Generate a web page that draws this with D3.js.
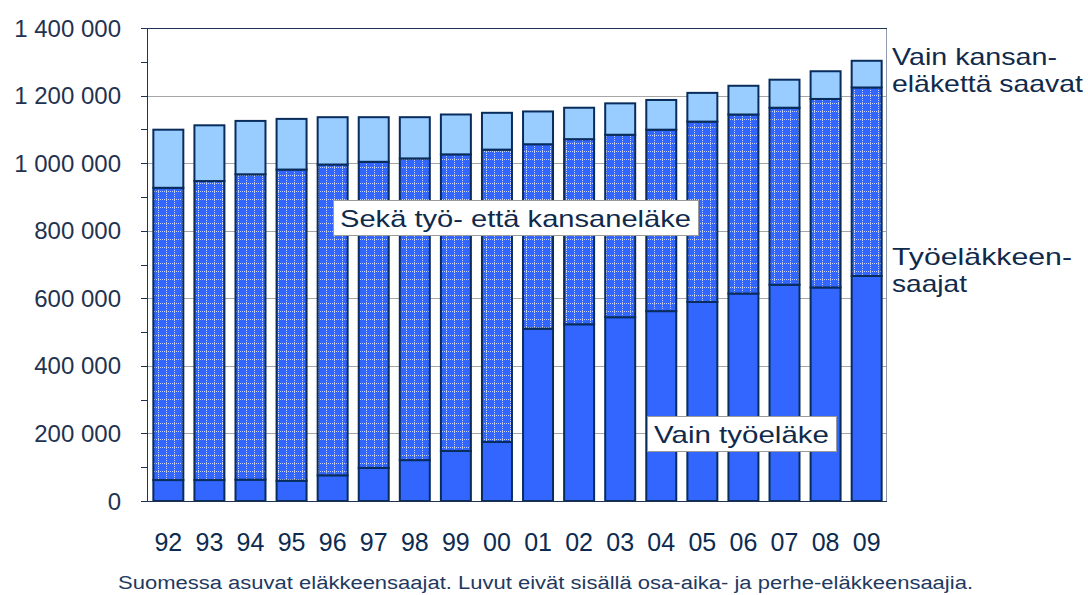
<!DOCTYPE html>
<html>
<head>
<meta charset="utf-8">
<script src="https://cdn.jsdelivr.net/npm/d3@7"></script>
<style>
  body { margin: 0; background: #fff; }
  text { font-family: "Liberation Sans", Arial, sans-serif; }
</style>
</head>
<body>
<div id="chart"></div>
<script>
'use strict';

const width = 1088;
const height = 595;

// vuodet
const years = ['92', '93', '94', '95', '96', '97', '98', '99', '00',
    '01', '02', '03', '04', '05', '06', '07', '08', '09'];

// Vain työeläke
const vainTyo = [62000, 62000, 63000, 60000, 76000, 98000, 121000, 148000, 175000,
    510000, 523000, 544000, 562000, 589000, 614000, 640000, 632000, 666000];

// Sekä työ- että kansaneläke
const seka = [865000, 885000, 904000, 921000, 920000, 906000, 893000, 878000, 865000,
    546000, 548000, 540000, 537000, 534000, 530000, 524000, 558000, 558000];

// Vain kansaneläkettä saavat
const vainKansan = [172000, 165000, 158000, 150000, 140000, 132000, 122000, 118000, 109000,
    97000, 93000, 93000, 88000, 85000, 85000, 83000, 82000, 79000];

const yTicks = [0, 200000, 400000, 600000, 800000, 1000000, 1200000, 1400000];
const yMinorTicks = d3.range(100000, 1400000, 200000);

const keys = ['vainTyo', 'seka', 'vainKansan'];
const fills = { vainTyo: '#3366ff', seka: 'url(#grid)', vainKansan: '#99ccff' };

const rows = years.map((y, i) => ({
    year: y, vainTyo: vainTyo[i], seka: seka[i], vainKansan: vainKansan[i]
}));
const stacked = d3.stack().keys(keys)(rows);

const plot = { left: 148, right: 887, top: 28, bottom: 501 };

const x = d3.scaleBand()
    .domain(years)
    .range([plot.left, plot.right])
    .paddingInner(0.27)
    .paddingOuter(0.13);

const y = d3.scaleLinear()
    .domain([0, 1400000])
    .range([plot.bottom, plot.top]);

const fmt = v => d3.format(',')(v).replace(/,/g, ' ');

let svg = d3.select('#chart').append('svg')
    .attr('width', width)
    .attr('height', height);

// ruudukkokuvio
const defs = svg.append('defs');
const pat = defs.append('pattern')
    .attr('id', 'grid')
    .attr('patternUnits', 'userSpaceOnUse')
    .attr('width', 8)
    .attr('height', 8);
pat.append('rect').attr('width', 8).attr('height', 8).attr('fill', '#3366ff');
pat.append('path')
    .attr('d', 'M0 7.5H8M6.5 0V8')
    .attr('stroke', '#c4d2f2')
    .attr('stroke-width', 1)
    .attr('stroke-dasharray', '1 1')
    .attr('fill', 'none');

// gridlines
svg.append('g').selectAll('line')
    .data(yTicks.filter(t => t > 0 && t < 1400000))
    .enter().append('line')
    .attr('x1', plot.left).attr('x2', plot.right)
    .attr('y1', d => Math.round(y(d)) + 0.5).attr('y2', d => Math.round(y(d)) + 0.5)
    .attr('stroke', '#a6a6a6').attr('stroke-width', 1);

// frame top + right
svg.append('path')
    .attr('d', `M${plot.left},${plot.top + 0.5}H${plot.right - 0.5}V${plot.bottom}`)
    .attr('fill', 'none')
    .attr('stroke', '#8c9aab')
    .attr('stroke-width', 1);
svg.append('line')
    .attr('x1', plot.left).attr('x2', plot.right)
    .attr('y1', plot.top + 0.5).attr('y2', plot.top + 0.5)
    .attr('stroke', '#1f3350');

// bars
svg.append('g').selectAll('g')
    .data(stacked)
    .enter().append('g')
    .attr('fill', d => fills[d.key])
    .selectAll('rect')
    .data(d => d)
    .enter().append('rect')
    .attr('x', d => x(d.data.year))
    .attr('width', x.bandwidth())
    .attr('y', d => y(d[1]))
    .attr('height', d => y(d[0]) - y(d[1]))
    .attr('stroke', '#082c5c')
    .attr('stroke-width', 2);

// y axis
const yAxis = svg.append('g');
yAxis.append('line')
    .attr('x1', plot.left - 0.5).attr('x2', plot.left - 0.5)
    .attr('y1', plot.top).attr('y2', plot.bottom)
    .attr('stroke', '#1f3350');
yAxis.selectAll('line.major')
    .data(yTicks).enter().append('line')
    .attr('class', 'major')
    .attr('x1', plot.left - 7).attr('x2', plot.left)
    .attr('y1', d => Math.round(y(d)) + 0.5).attr('y2', d => Math.round(y(d)) + 0.5)
    .attr('stroke', '#1f3350');
yAxis.selectAll('line.minor')
    .data(yMinorTicks).enter().append('line')
    .attr('class', 'minor')
    .attr('x1', plot.left - 7).attr('x2', plot.left)
    .attr('y1', d => Math.round(y(d)) + 0.5).attr('y2', d => Math.round(y(d)) + 0.5)
    .attr('stroke', '#1f3350');
yAxis.selectAll('text')
    .data(yTicks).enter().append('text')
    .attr('x', 121)
    .attr('y', d => y(d))
    .attr('dy', '0.36em')
    .attr('text-anchor', 'end')
    .attr('font-size', 24)
    .attr('fill', '#1f3350')
    .text(fmt);

// bottom axis line
svg.append('line')
    .attr('x1', plot.left - 7).attr('x2', plot.right)
    .attr('y1', plot.bottom + 0.5).attr('y2', plot.bottom + 0.5)
    .attr('stroke', '#1f3350');

// x labels
svg.append('g').selectAll('text')
    .data(years).enter().append('text')
    .attr('x', d => x(d) + x.bandwidth() / 2)
    .attr('y', 551)
    .attr('text-anchor', 'middle')
    .attr('font-size', 25)
    .attr('fill', '#0d2b50')
    .text(d => d);

// boxed labels inside the plot (text is a bit stretched in the original)
function boxLabel(txt, bx, by, tw) {
    const g = svg.append('g');
    g.append('rect')
        .attr('x', bx + 0.5).attr('y', by + 0.5)
        .attr('width', tw + 14).attr('height', 35)
        .attr('fill', '#fff')
        .attr('stroke', '#9a9a9a');
    g.append('text')
        .attr('x', bx + 7)
        .attr('y', by + 27)
        .attr('font-size', 24)
        .attr('fill', '#102a4c')
        .attr('textLength', tw)
        .attr('lengthAdjust', 'spacingAndGlyphs')
        .text(txt);
}
boxLabel('Sekä työ- että kansaneläke', 333, 200, 351);
boxLabel('Vain työeläke', 647, 416, 175);

// labels on the right
const rightLabels = [
    { lines: ['Vain kansan-', 'eläkettä saavat'], widths: [165, 191], y: 65 },
    { lines: ['Työeläkkeen-', 'saajat'], widths: [180, 75], y: 265 }
];
rightLabels.forEach(l => {
    l.lines.forEach((line, i) => {
        svg.append('text')
            .attr('x', 892)
            .attr('y', l.y + i * 27)
            .attr('font-size', 24)
            .attr('fill', '#102a4c')
            .attr('textLength', l.widths[i])
            .attr('lengthAdjust', 'spacingAndGlyphs')
            .text(line);
    });
});

// caption
svg.append('text')
    .attr('x', 118)
    .attr('y', 589)
    .attr('font-size', 18)
    .attr('fill', '#1f3a5f')
    .attr('textLength', 855)
    .attr('lengthAdjust', 'spacingAndGlyphs')
    .text('Suomessa asuvat eläkkeensaajat.  Luvut eivät sisällä osa-aika- ja perhe-eläkkeensaajia.');
</script>
</body>
</html>
